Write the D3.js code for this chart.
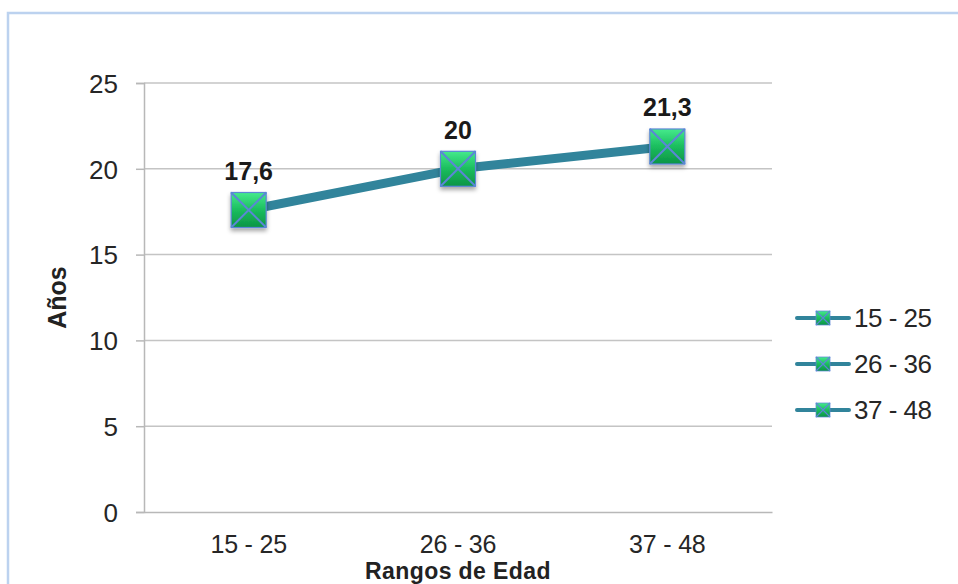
<!DOCTYPE html>
<html>
<head>
<meta charset="utf-8">
<script src="https://cdn.jsdelivr.net/npm/d3@7"></script>
<style>
  html, body { margin: 0; padding: 0; background: #fff; }
  svg { display: block; font-family: "Liberation Sans", Arial, sans-serif; }
</style>
</head>
<body>
<svg id="chart" width="958" height="584"></svg>
<script>
// Average age per age range
const categories = ["15 - 25", "26 - 36", "37 - 48"];
const values = [17.6, 20, 21.3];
const valueLabels = ["17,6", "20", "21,3"];
const yTicks = [0, 5, 10, 15, 20, 25];
const legendItems = ["15 - 25", "26 - 36", "37 - 48"];

const svg = d3.select("#chart");
const W = 958, H = 584;
const plot = { left: 144, right: 772, top: 83, bottom: 512 };
const FONT = "Liberation Sans, Arial, sans-serif";

// Chart frame
svg.append("rect")
  .attr("x", 8).attr("y", 13)
  .attr("width", W + 20).attr("height", H + 20)
  .attr("fill", "#fff")
  .attr("stroke", "#bcd2ef").attr("stroke-width", 2.5);

const defs = svg.append("defs");
const grad = defs.append("linearGradient").attr("id", "mk").attr("x1", 0).attr("y1", 0).attr("x2", 0).attr("y2", 1);
grad.append("stop").attr("offset", "0%").attr("stop-color", "#45ea8c");
grad.append("stop").attr("offset", "50%").attr("stop-color", "#1bbd5e");
grad.append("stop").attr("offset", "100%").attr("stop-color", "#0c9445");
const shadow = defs.append("filter").attr("id", "sh").attr("x", "-30%").attr("y", "-30%").attr("width", "160%").attr("height", "170%");
shadow.append("feDropShadow").attr("dx", 0).attr("dy", 3).attr("stdDeviation", 2).attr("flood-color", "#000").attr("flood-opacity", 0.35);

const x = d3.scaleBand().domain(categories).range([plot.left, plot.right]);
const y = d3.scaleLinear().domain([0, 25]).range([plot.bottom, plot.top]);

// Gridlines
svg.append("g").selectAll("line").data(yTicks.filter(t => t > 0)).join("line")
  .attr("x1", plot.left).attr("x2", plot.right)
  .attr("y1", d => y(d)).attr("y2", d => y(d))
  .attr("stroke", "#c4c4c4").attr("stroke-width", 1.5);

// Y axis
const yAxis = svg.append("g").attr("transform", `translate(${plot.left},0)`)
  .call(d3.axisLeft(y).tickValues(yTicks).tickSize(8).tickPadding(18).tickFormat(d3.format("d")));
yAxis.select(".domain").attr("stroke", "#b8b8b8").attr("stroke-width", 1.5);
yAxis.selectAll(".tick line").attr("stroke", "#b8b8b8").attr("stroke-width", 1.5);
yAxis.selectAll(".tick text").attr("font-size", 26).attr("fill", "#262626")
  .attr("font-family", FONT).attr("dy", "0.36em");

// X axis
const xAxis = svg.append("g").attr("transform", `translate(0,${plot.bottom})`)
  .call(d3.axisBottom(x).tickSize(0).tickPadding(23));
xAxis.select(".domain").attr("stroke", "#b8b8b8").attr("stroke-width", 1.5);
xAxis.selectAll(".tick text").attr("font-size", 25).attr("fill", "#262626")
  .attr("font-family", FONT).attr("dy", "0.71em")
  .attr("letter-spacing", "-0.2px");

// Axis titles
svg.append("text")
  .attr("transform", `translate(66,${(plot.top + plot.bottom) / 2}) rotate(-90)`)
  .attr("text-anchor", "middle")
  .attr("font-size", 25).attr("font-weight", "bold").attr("fill", "#222")
  .text("Años");
svg.append("text")
  .attr("x", x(categories[1]) + x.bandwidth() / 2).attr("y", 579)
  .attr("text-anchor", "middle")
  .attr("font-size", 23).attr("font-weight", "bold").attr("fill", "#222")
  .attr("letter-spacing", "0.4px")
  .text("Rangos de Edad");

// Series line
const cx = c => x(c) + x.bandwidth() / 2;
const pts = categories.map((c, i) => [cx(c), y(values[i])]);
svg.append("path")
  .attr("d", d3.line()(pts))
  .attr("fill", "none").attr("stroke", "#31849b").attr("stroke-width", 9)
  .attr("stroke-linejoin", "round").attr("stroke-linecap", "round");

function marker(g, px, py, s, sw, withShadow) {
  const h = s / 2;
  g.append("rect").attr("x", px - h).attr("y", py - h).attr("width", s).attr("height", s)
    .attr("fill", "url(#mk)").attr("stroke", "#5b86d6").attr("stroke-width", sw * 0.6)
    .attr("filter", withShadow ? "url(#sh)" : null);
  g.append("path")
    .attr("d", `M${px - h},${py - h}L${px + h},${py + h}M${px + h},${py - h}L${px - h},${py + h}`)
    .attr("stroke", "#5b86d6").attr("stroke-width", sw);
}

const mk = svg.append("g");
pts.forEach(p => marker(mk, p[0], p[1], 35, 2, true));

// Value labels
svg.append("g").selectAll("text").data(pts).join("text")
  .attr("x", d => d[0]).attr("y", d => d[1] - 30)
  .attr("text-anchor", "middle")
  .attr("font-size", 25).attr("font-weight", "bold").attr("fill", "#1a1a1a")
  .text((d, i) => valueLabels[i]);

// Legend
const lg = svg.append("g");
legendItems.forEach((name, i) => {
  const ly = 318 + i * 46;
  lg.append("line").attr("x1", 797).attr("x2", 849).attr("y1", ly).attr("y2", ly)
    .attr("stroke", "#31849b").attr("stroke-width", 4).attr("stroke-linecap", "round");
  marker(lg, 823, ly, 14, 1.2, false);
  lg.append("text").attr("x", 854).attr("y", ly + 9)
    .attr("font-size", 26).attr("fill", "#262626").attr("letter-spacing", "-0.5px")
    .text(name);
});
</script>
</body>
</html>
